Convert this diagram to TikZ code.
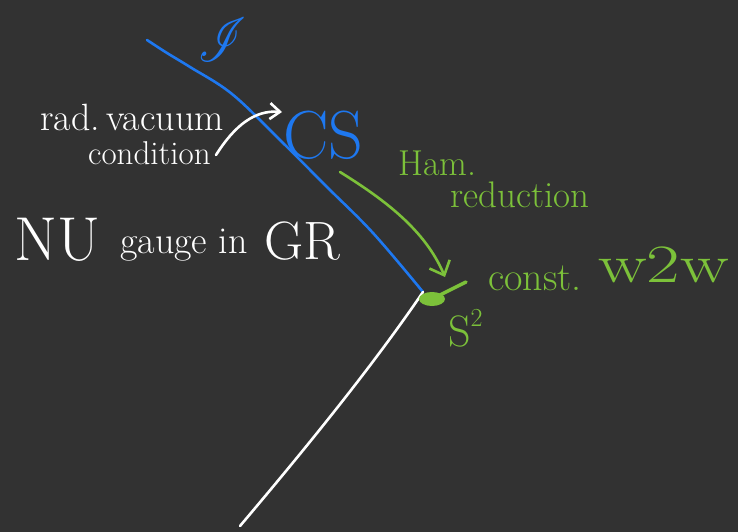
\documentclass[tikz,border=0pt]{standalone}
\usepackage{mathrsfs}
\usetikzlibrary{arrows.meta}
\definecolor{bg}{HTML}{323232}
\definecolor{hblue}{HTML}{1E78F0}
\definecolor{hgreen}{HTML}{7CC13A}
\tikzset{
  wtext/.style={text=white, inner sep=0pt, anchor=west},
  btext/.style={text=hblue, inner sep=0pt, anchor=west},
  gtext/.style={text=hgreen, inner sep=0pt, anchor=west},
  pen/.style={line width=2.6pt, line cap=round, line join=round},
}
\begin{document}
\begin{tikzpicture}[x=1pt,y=-1pt]
\fill[bg] (0,0) rectangle (738,532);
\useasboundingbox (0,0) rectangle (738,532);
% scri symbol
\node[btext] (scri) at (198,40) {\scalebox{4.8}[6.2]{$\mathscr{I}$}};
% null line
\coordinate (top) at (147,40);
\coordinate (p) at (423,292);
\coordinate (bot) at (240,526);
\draw[pen, hblue] plot[smooth, tension=0.6] coordinates {(top) (167,53) (190,67) (232,94) (280,140) (327,187) (373,233) (p)};
\draw[pen, white] (p) .. controls (370,370) and (300,455) .. (bot);
% point S^2
\fill[hgreen] (432,299) ellipse (13pt and 7pt);
\coordinate (tick) at (466,282);
\draw[pen, hgreen, line width=3.4pt] (tick) -- (432,299);
% labels
\node[btext] (cs) at (283,135) {\fontsize{68}{68}\selectfont CS};
\node[wtext] (rad) at (40,117) {\fontsize{38}{38}\selectfont rad.\,vacuum};
\node[wtext] (cond) at (88,153) {\fontsize{33}{33}\selectfont condition};
\node[wtext] (nu) at (14,240) {\fontsize{62}{62}\selectfont NU};
\node[wtext] (gauge) at (120,245) {\fontsize{38}{38}\selectfont gauge in};
\node[wtext] (gr) at (264,241) {\fontsize{54}{54}\selectfont GR};
\node[gtext] (ham) at (398,163) {\fontsize{36}{36}\selectfont Ham.};
\node[gtext] (red) at (450,195) {\fontsize{37}{37}\selectfont reduction};
\node[gtext] (const) at (488,278) {\fontsize{40}{40}\selectfont const.};
\node[gtext] (w2w) at (598,265) {\fontsize{54}{54}\selectfont\scalebox{1.35}[1]{w2w}};
\node[gtext] (s2) at (448,328) {\fontsize{44}{44}\selectfont S\raisebox{0.45em}{\fontsize{26}{26}\selectfont 2}};
% arrows
\coordinate (ws) at (216,155);
\coordinate (we) at (282,112);
\draw[pen, white, -{Straight Barb[length=10pt,width=16pt]}] (ws) .. controls (235,125) and (255,110) .. (we);
\coordinate (gs) at (340,172);
\coordinate (ge) at (445,277);
\draw[pen, hgreen, -{Straight Barb[length=12pt,width=22pt]}] (gs) .. controls (385,200) and (425,230) .. (ge);
\end{tikzpicture}
\end{document}
